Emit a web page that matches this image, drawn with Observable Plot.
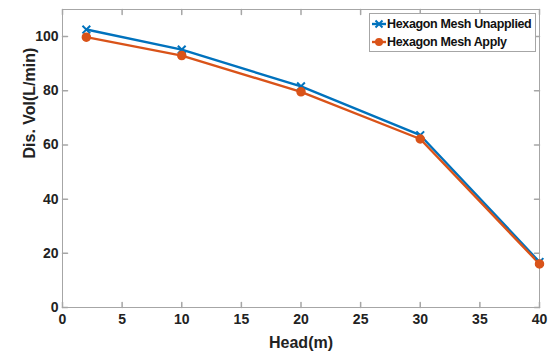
<!DOCTYPE html>
<html>
<head>
<meta charset="utf-8">
<script src="https://cdn.jsdelivr.net/npm/d3@7"></script>
<script src="https://cdn.jsdelivr.net/npm/@observablehq/plot@0.6"></script>
<style>
  html, body { margin: 0; padding: 0; background: #fff; }
  #chart { position: relative; width: 555px; height: 355px; font-family: "Liberation Sans", Arial, sans-serif; }
  #legend { position: absolute; left: 369px; top: 13px; width: 167px; height: 39px; border: 1px solid #a6a6a6; background: #fff; box-sizing: border-box; font-family: "Liberation Sans", Arial, sans-serif; font-weight: bold; font-size: 12.5px; letter-spacing: -0.35px; color: #111; white-space: nowrap; overflow: hidden; padding-top: 1px; }
  #legend .row { display: flex; align-items: center; height: 18px; padding-left: 2px; }
  #legend svg { margin-right: 1px; flex: none; }
</style>
</head>
<body>
<div id="chart"><div id="legend"></div></div>
<script>
// Discharge volume against pump head, with and without the hexagon mesh
const head = [2, 10, 20, 30, 40];
const volUnapplied = [102.6, 95.2, 81.6, 63.6, 16.8];
const volApply = [99.8, 93.0, 79.6, 62.2, 16.1];
const seriesNames = ["Hexagon Mesh Unapplied", "Hexagon Mesh Apply"];
const seriesColors = ["#0072BD", "#D95319"];
const xTicks = [0, 5, 10, 15, 20, 25, 30, 35, 40];
const yTicks = [0, 20, 40, 60, 80, 100];

const rows = [
  ...head.map((h, i) => ({head: h, vol: volUnapplied[i], series: seriesNames[0]})),
  ...head.map((h, i) => ({head: h, vol: volApply[i], series: seriesNames[1]}))
];
const unapplied = rows.filter(d => d.series === seriesNames[0]);
const applied = rows.filter(d => d.series === seriesNames[1]);

// a plain line segment, used for the inward tick marks
const tickShape = {draw(context, l) { context.moveTo(0, 0); context.lineTo(0, -l); }};
const axisGray = "#a6a6a6";
const xMin = 0, xMax = 40, yMin = 0, yMax = 110;

const chart = Plot.plot({
  width: 555,
  height: 355,
  marginLeft: 62,
  marginRight: 16,
  marginTop: 9,
  marginBottom: 48,
  style: {fontFamily: "'Liberation Sans', Arial, sans-serif", fontWeight: "bold", color: "#222", background: "#fff"},
  x: {domain: [xMin, xMax]},
  y: {domain: [yMin, yMax]},
  color: {domain: seriesNames, range: seriesColors},
  marks: [
    Plot.frame({stroke: axisGray}),
    Plot.vector(xTicks, {x: d => d, y: yMin, length: 5, rotate: 0, anchor: "start", shape: tickShape, stroke: axisGray}),
    Plot.vector(xTicks, {x: d => d, y: yMax, length: 5, rotate: 180, anchor: "start", shape: tickShape, stroke: axisGray}),
    Plot.vector(yTicks, {x: xMin, y: d => d, length: 5, rotate: 90, anchor: "start", shape: tickShape, stroke: axisGray}),
    Plot.vector(yTicks, {x: xMax, y: d => d, length: 5, rotate: -90, anchor: "start", shape: tickShape, stroke: axisGray}),
    Plot.axisX(xTicks, {tickSize: 0, tickPadding: 7, fontSize: 14, label: null}),
    Plot.axisY(yTicks, {tickSize: 0, tickPadding: 4, fontSize: 14, label: null}),
    Plot.text(["Head(m)"], {frameAnchor: "bottom", dy: 40, fontSize: 16, text: d => d}),
    Plot.text(["Dis. Vol(L/min)"], {frameAnchor: "left", dx: -33, rotate: -90, fontSize: 16, text: d => d}),
    Plot.line(rows, {x: "head", y: "vol", stroke: "series", strokeWidth: 2.4}),
    Plot.dot(unapplied, {x: "head", y: "vol", symbol: "times", r: 3.6, stroke: "series", strokeWidth: 2}),
    Plot.dot(applied, {x: "head", y: "vol", symbol: "circle", r: 4, fill: "series", stroke: "series"})
  ]
});
document.getElementById("chart").prepend(chart);

// legend entries: line sample with its marker, then the series name
const legend = d3.select("#legend");
seriesNames.forEach((name, i) => {
  const row = legend.append("div").attr("class", "row");
  const svg = row.append("svg").attr("width", 14).attr("height", 12);
  svg.append("line").attr("x1", 0).attr("x2", 14).attr("y1", 6).attr("y2", 6)
    .attr("stroke", seriesColors[i]).attr("stroke-width", 2.4);
  if (i === 0) {
    svg.append("path").attr("d", "M3.5,2.5L10.5,9.5M10.5,2.5L3.5,9.5")
      .attr("stroke", seriesColors[i]).attr("stroke-width", 2);
  } else {
    svg.append("circle").attr("cx", 7).attr("cy", 6).attr("r", 4).attr("fill", seriesColors[i]);
  }
  row.append("span").text(name);
});
</script>
</body>
</html>
